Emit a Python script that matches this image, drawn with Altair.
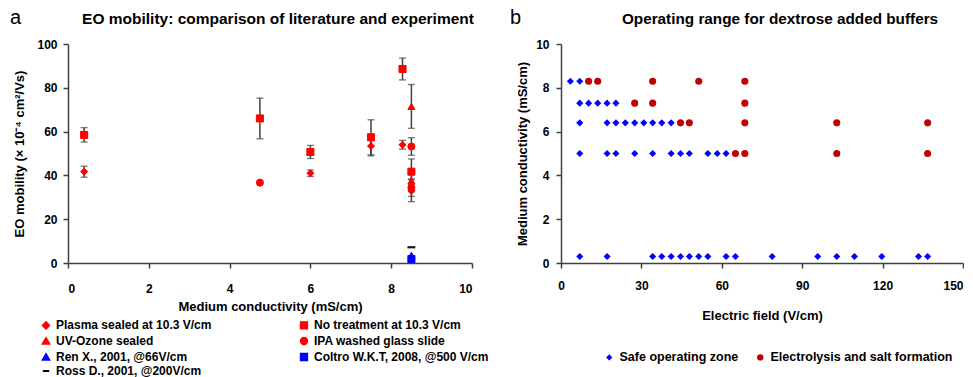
import altair as alt
import pandas as pd

FONT = "Liberation Sans"

# ---------------- Panel a data ----------------
series_names = [
    "Plasma sealed at 10.3 V/cm",
    "No treatment at 10.3 V/cm",
    "UV-Ozone sealed",
    "IPA washed glass slide",
    "Ren X., 2001, @66V/cm",
    "Coltro W.K.T, 2008, @500 V/cm",
    "Ross D., 2001, @200V/cm",
]

plasma_x = [0.4, 6.0, 7.5, 8.28, 8.5]
plasma_y = [41.7, 41.0, 53.4, 54.0, 33.0]
plasma_err = [2.5, 1.5, 4.5, 2.0, 5.0]

notreat_x = [0.4, 4.75, 6.0, 7.5, 8.28, 8.5]
notreat_y = [58.5, 66.0, 50.7, 57.4, 88.6, 41.7]
notreat_err = [3.3, 9.3, 3.0, 8.0, 5.0, 5.8]

uv_x = [8.5, 8.5]
uv_y = [71.5, 37.5]
uv_err = [10.0, 5.0]

ipa_x = [4.75, 8.5, 8.5]
ipa_y = [36.7, 53.2, 34.4]
ipa_err = [None, 4.0, 4.0]

ren_x = [8.5]
ren_y = [3.5]

coltro_x = [8.5]
coltro_y = [1.8]

ross_x = [8.5]
ross_y = [7.2]

rows = []
for name, xs, ys, es in [
    (series_names[0], plasma_x, plasma_y, plasma_err),
    (series_names[1], notreat_x, notreat_y, notreat_err),
    (series_names[2], uv_x, uv_y, uv_err),
    (series_names[3], ipa_x, ipa_y, ipa_err),
    (series_names[4], ren_x, ren_y, [None]),
    (series_names[5], coltro_x, coltro_y, [None]),
    (series_names[6], ross_x, ross_y, [None]),
]:
    for x, y, e in zip(xs, ys, es):
        rows.append({"series": name, "x": x, "y": y, "err": e})
dfA = pd.DataFrame(rows)
errA = dfA[dfA["err"].notna()].copy()
errA["lo"] = errA["y"] - errA["err"]
errA["hi"] = errA["y"] + errA["err"]
rossA = dfA[dfA["series"] == series_names[6]]

shape_by_series = {
    series_names[0]: "diamond", series_names[1]: "square", series_names[2]: "triangle-up",
    series_names[3]: "circle", series_names[4]: "triangle-up", series_names[5]: "square",
    series_names[6]: "stroke",
}
color_by_series = {
    series_names[0]: "#FF0000", series_names[1]: "#FF0000", series_names[2]: "#FF0000",
    series_names[3]: "#FF0000", series_names[4]: "#0000FF", series_names[5]: "#0000FF",
    series_names[6]: "#000000",
}
# the legend grid is filled column by column: left column first, then right column
legend_order = [series_names[i] for i in [0, 2, 4, 6, 1, 3, 5]]
shape_range = [shape_by_series[s] for s in legend_order]
color_range = [color_by_series[s] for s in legend_order]

# ---------------- Panel b data ----------------
safe_x_83 = [3.5, 7.0]
safe_x_73 = [7.0, 10.3, 13.7, 17.2, 20.5]
safe_x_64 = [7.0, 17.2, 20.5, 24.0, 27.5, 30.9, 34.2, 37.6, 41.1]
safe_x_50 = [7.0, 17.2, 20.5, 27.5, 34.2, 41.1, 44.6, 47.9, 54.8, 58.3, 61.6]
safe_x_03 = [7.0, 17.2, 34.2, 37.6, 41.1, 44.6, 47.9, 51.4, 54.8, 61.6, 65.1,
             78.8, 95.8, 102.9, 109.5, 119.7, 133.4, 136.8]

elec_x_83 = [10.3, 13.7, 34.2, 51.4, 68.6]
elec_x_73 = [27.5, 34.2, 68.6]
elec_x_64 = [44.6, 47.9, 68.6, 102.9, 136.8]
elec_x_50 = [65.1, 68.6, 102.9, 136.8]

conductivities = [8.3, 7.3, 6.4, 5.0, 0.3]
legend_b = ["Safe operating zone", "Electrolysis and salt formation"]

title_a = "EO mobility: comparison of literature and experiment"
title_b = "Operating range for dextrose added buffers"

rowsB = []
for c, xs in zip(conductivities, [safe_x_83, safe_x_73, safe_x_64, safe_x_50, safe_x_03]):
    for x in xs:
        rowsB.append({"series": legend_b[0], "x": x, "y": c})
for c, xs in zip(conductivities[:4], [elec_x_83, elec_x_73, elec_x_64, elec_x_50]):
    for x in xs:
        rowsB.append({"series": legend_b[1], "x": x, "y": c})
dfB = pd.DataFrame(rowsB)

# ---------------- Panel a chart ----------------
W_A, H_A = 404, 219
legA = alt.Legend(
    title=None, orient="none", legendX=-28, legendY=275, columns=2, padding=0,
    columnPadding=84, rowPadding=0, labelFontSize=12, labelFont=FONT,
    labelFontWeight="bold", labelColor="#000000", symbolSize=40,
    labelLimit=400, symbolStrokeWidth=2,
)

xA = alt.X("x:Q", scale=alt.Scale(domain=[0, 10]),
           axis=alt.Axis(values=[0, 2, 4, 6, 8, 10], title="Medium conductivity (mS/cm)",
                         labelPadding=15, titlePadding=6, grid=False))
yA = alt.Y("y:Q", scale=alt.Scale(domain=[0, 100]),
           axis=alt.Axis(values=[0, 20, 40, 60, 80, 100], grid=False,
                         title="EO mobility (× 10⁻⁴ cm²/Vs)", labelPadding=6, titlePadding=10))

rulesA = alt.Chart(errA).mark_rule(color="#404040", strokeWidth=1.5).encode(
    x=xA, y=alt.Y("lo:Q"), y2="hi:Q")
capLo = alt.Chart(errA).mark_tick(color="#404040", thickness=1.3, size=7, orient="horizontal").encode(
    x="x:Q", y="lo:Q")
capHi = alt.Chart(errA).mark_tick(color="#404040", thickness=1.3, size=7, orient="horizontal").encode(
    x="x:Q", y="hi:Q")

ptsA = alt.Chart(dfA).mark_point(filled=True, opacity=1, size=50, strokeWidth=1).encode(
    x=xA,
    y=yA,
    fill=alt.Fill("series:N", scale=alt.Scale(domain=legend_order, range=color_range), legend=legA),
    stroke=alt.Stroke("series:N", scale=alt.Scale(domain=legend_order, range=color_range), legend=legA),
    shape=alt.Shape("series:N", scale=alt.Scale(domain=legend_order, range=shape_range), legend=legA),
)
rossTick = alt.Chart(rossA).mark_tick(color="#000000", thickness=2.5, size=8, orient="horizontal").encode(
    x="x:Q", y="y:Q")

labelA = alt.Chart(pd.DataFrame({"t": ["a"]})).mark_text(
    fontSize=20, font=FONT, align="left", baseline="alphabetic", color="#000000"
).encode(x=alt.value(-58), y=alt.value(-20), text="t:N")
titleA = alt.Chart(pd.DataFrame({"t": [title_a]})).mark_text(
    fontSize=15.5, font=FONT, fontWeight="bold", align="center", baseline="alphabetic", color="#000000"
).encode(x=alt.value(210), y=alt.value(-20), text="t:N")

chartA = alt.layer(rulesA, capLo, capHi, ptsA, rossTick, labelA, titleA).properties(width=W_A, height=H_A)

# ---------------- Panel b chart ----------------
W_B, H_B = 402, 219
legB = alt.Legend(
    title=None, orient="none", legendX=42, legendY=307, direction="horizontal", padding=0,
    columnPadding=15, labelFontSize=12.5, labelFont=FONT, labelFontWeight="bold",
    labelColor="#000000", symbolSize=40, labelLimit=400,
)
ptsB = alt.Chart(dfB).mark_point(filled=True, opacity=1, size=50).encode(
    x=alt.X("x:Q", scale=alt.Scale(domain=[0, 150]),
            axis=alt.Axis(values=[0, 30, 60, 90, 120, 150], title="Electric field (V/cm)",
                          labelPadding=12, titlePadding=18, grid=False,
                          labelAlign={"expr": "datum.value == 150 ? 'right' : 'center'"})),
    y=alt.Y("y:Q", scale=alt.Scale(domain=[0, 10]),
            axis=alt.Axis(values=[0, 2, 4, 6, 8, 10], title="Medium conductivity (mS/cm)",
                          labelPadding=7, titlePadding=6, grid=False)),
    fill=alt.Fill("series:N", scale=alt.Scale(domain=legend_b, range=["#0000FF", "#C00000"]), legend=legB),
    shape=alt.Shape("series:N", scale=alt.Scale(domain=legend_b, range=["diamond", "circle"]), legend=legB),
)
labelB = alt.Chart(pd.DataFrame({"t": ["b"]})).mark_text(
    fontSize=20, font=FONT, align="left", baseline="alphabetic", color="#000000"
).encode(x=alt.value(-51), y=alt.value(-20), text="t:N")
titleB = alt.Chart(pd.DataFrame({"t": [title_b]})).mark_text(
    fontSize=15.3, font=FONT, fontWeight="bold", align="center", baseline="alphabetic", color="#000000"
).encode(x=alt.value(219), y=alt.value(-20), text="t:N")

chartB = alt.layer(ptsB, labelB, titleB).properties(width=W_B, height=H_B)

chart = alt.hconcat(chartA, chartB, spacing=21).resolve_scale(
    fill="independent", stroke="independent", shape="independent",
    x="independent", y="independent"
).resolve_legend(fill="independent", stroke="independent", shape="independent").properties(
    padding={"left": 2, "top": 0, "right": 0, "bottom": 0}, background="white"
).configure_view(stroke=None).configure_axis(
    grid=False, domainColor="#404040", tickColor="#404040", domainWidth=1.5, tickWidth=1.5,
    tickSize=5, labelFont=FONT, labelFontSize=12, labelFontWeight="bold", labelColor="#000000",
    titleFont=FONT, titleFontSize=13, titleFontWeight="bold", titleColor="#000000",
)

chart.save("out.html", embed_options={"renderer": "svg", "actions": False})
